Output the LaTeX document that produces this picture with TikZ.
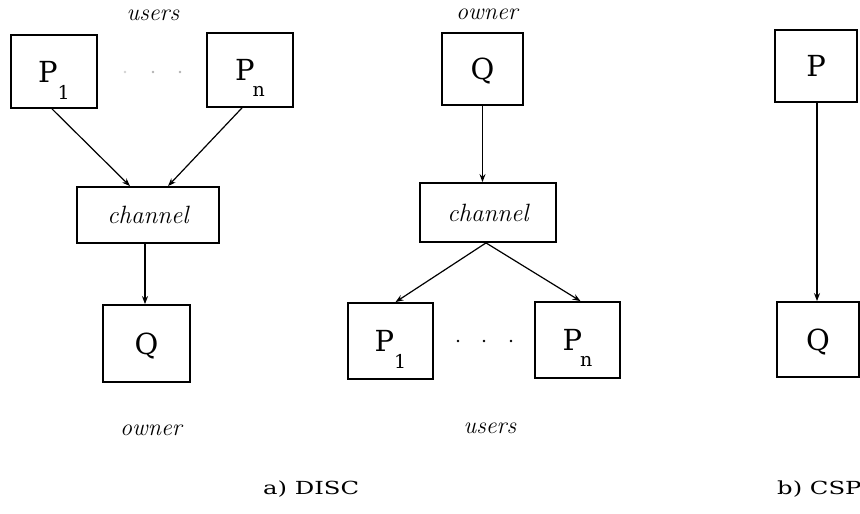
\documentclass[tikz,border=0pt]{standalone}
\usepackage{fontspec}
\usepackage{graphicx}
\newfontfamily\upfont{DejaVu Serif}
\usetikzlibrary{arrows.meta,calc}

% lowered index after a process name, e.g. P_1, P_n
\newcommand\procidx[3][0pt]{\kern#1\raisebox{#2}{\fontsize{19}{19}\selectfont #3}}
% wide caption text
\newcommand\widetext[1]{\scalebox{1.35}[1]{#1}}

\begin{document}
\begin{tikzpicture}[x=1pt,y=-1pt,
  proc/.style={draw, line width=1.8pt, inner sep=0pt,
    font=\upfont\fontsize{29}{29}\selectfont, text depth=0pt},
  chan/.style={draw, line width=1.8pt, inner sep=0pt,
    font=\itshape\fontsize{25}{25}\selectfont},
  role/.style={font=\itshape\fontsize{24}{24}\selectfont, inner sep=0pt},
  flow/.style={line width=1.2pt, -{Stealth[length=8pt,width=6pt]}},
  capt/.style={font=\upfont\fontsize{18}{18}\selectfont, inner sep=0pt, anchor=base west},
  dotmark/.style={circle, fill, inner sep=0pt, minimum size=2.6pt}
]
\useasboundingbox (0,0) rectangle (860,514);

% ---- a) DISC, many users to one owner ----
\node[role] (uL) at (153,15) {users};
\node[proc, minimum width=86pt, minimum height=73pt] (P1L) at (54,71.5) {P\procidx{-17pt}{1}};
\node[proc, minimum width=86pt, minimum height=74pt] (PnL) at (250,70) {P\procidx[-2pt]{-16pt}{n}};
\node[dotmark, fill=gray!35] (dL1) at (125,72) {};
\node[dotmark, fill=gray!60] (dL2) at (153,72) {};
\node[dotmark, fill=gray!60] (dL3) at (180,72) {};
\node[chan, minimum width=142pt, minimum height=56pt] (chL) at (148,215) {channel};
\node[proc, minimum width=87pt, minimum height=77pt] (QL) at (146.5,343.5) {Q};
\node[role] (oL) at (151,430) {owner};

\coordinate (p1Lout) at ($(P1L.south)+(-2,0)$);
\coordinate (pnLout) at ($(PnL.south)+(-8,0)$);
\coordinate (chLin1) at ($(chL.north)+(-18,0)$);
\coordinate (chLin2) at ($(chL.north)+(20,0)$);
\coordinate (chLout) at ($(chL.south)+(-3,0)$);
\draw[flow] (p1Lout) -- (chLin1);
\draw[flow] (pnLout) -- (chLin2);
\draw[flow] (chLout) -- (chLout |- QL.north);

% ---- a) DISC, one owner to many users ----
\node[role] (oM) at (487,14) {owner};
\node[proc, minimum width=81pt, minimum height=72pt] (QM) at (482.5,69) {Q};
\node[chan, minimum width=136pt, minimum height=59pt] (chM) at (488,212.5) {channel};
\node[proc, minimum width=85pt, minimum height=76pt] (P1M) at (390.5,341) {P\procidx{-17pt}{1}};
\node[proc, minimum width=85pt, minimum height=76pt] (PnM) at (577.5,340) {P\procidx[-2pt]{-16pt}{n}};
\node[dotmark] (dM1) at (458,341) {};
\node[dotmark] (dM2) at (484,341) {};
\node[dotmark] (dM3) at (511,341) {};
\node[role] (uM) at (490,428) {users};

\coordinate (chMout) at ($(chM.south)+(-2,0)$);
\coordinate (p1Min) at ($(P1M.north)+(5,0)$);
\coordinate (pnMin) at ($(PnM.north)+(3,0)$);
\draw[flow] (QM.south) -- (QM.south |- chM.north);
\draw[flow] (chMout) -- (p1Min);
\draw[flow] (chMout) -- (pnMin);

% ---- b) CSP ----
\node[proc, minimum width=82pt, minimum height=72pt] (PR) at (816,66) {P};
\node[proc, minimum width=82pt, minimum height=75pt] (QR) at (818,339.5) {Q};
\coordinate (pRout) at ($(PR.south)+(1,0)$);
\draw[flow] (pRout) -- (pRout |- QR.north);

% ---- captions ----
\node[capt] (ca) at (263,494) {\widetext{a) DISC}};
\node[capt] (cb) at (777,494) {\widetext{b) CSP}};
\end{tikzpicture}
\end{document}
